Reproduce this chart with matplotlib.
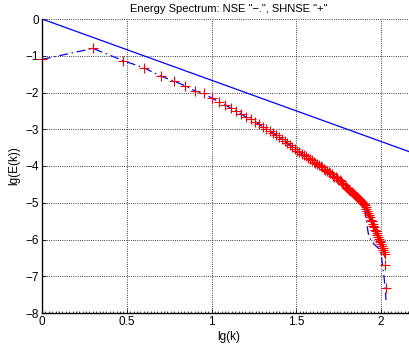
import numpy as np
import matplotlib
matplotlib.use("Agg")
import matplotlib.pyplot as plt
from matplotlib.ticker import MultipleLocator

plt.rcParams['font.family'] = ['Liberation Sans', 'DejaVu Sans']
plt.rcParams['font.size'] = 8

# wavenumbers k = 1..107
k = np.arange(1, 108)

# lg(E(k)) shared by both runs up to k = 80
E_common = [
    -1.10, -0.80, -1.13, -1.33, -1.55, -1.69, -1.82, -1.96, -2.02, -2.15,
    -2.25, -2.33, -2.43, -2.51, -2.59, -2.67, -2.72, -2.79, -2.86, -2.93,
    -2.99, -3.05, -3.10, -3.16, -3.22, -3.27, -3.33, -3.38, -3.43, -3.48,
    -3.53, -3.58, -3.62, -3.66, -3.70, -3.74, -3.77, -3.81, -3.84, -3.88,
    -3.91, -3.94, -3.98, -4.01, -4.04, -4.08, -4.11, -4.14, -4.17, -4.20,
    -4.23, -4.26, -4.29, -4.31, -4.34, -4.37, -4.39, -4.42, -4.46, -4.49,
    -4.52, -4.56, -4.59, -4.62, -4.65, -4.68, -4.71, -4.74, -4.76, -4.79,
    -4.82, -4.85, -4.87, -4.90, -4.93, -4.95, -4.98, -5.00, -5.03, -5.05,
]
# tails k = 81..107
shnse_tail = [
    -5.11, -5.17, -5.23, -5.29, -5.34, -5.40, -5.46, -5.51, -5.57, -5.62,
    -5.67, -5.73, -5.78, -5.83, -5.88, -5.93, -5.98, -6.03, -6.08, -6.13,
    -6.18, -6.23, -6.28, -6.33, -6.40, -6.69, -7.33,
]
nse_tail = [
    -5.35, -5.50, -5.68, -5.83, -5.90, -5.96, -6.01, -6.06, -6.08, -6.10,
    -6.13, -6.15, -6.17, -6.19, -6.21, -6.23, -6.25, -6.27, -6.30, -6.40,
    -6.55, -6.70, -6.85, -7.00, -7.20, -7.40, -7.65,
]
E_nse = E_common + nse_tail
E_shnse = E_common + shnse_tail

# k^(-5/3) reference line
ref_x = [0.0, 2.2]
ref_y = [0.0, -3.667]

fig = plt.figure(figsize=(4.1, 3.5), dpi=100)
ax = fig.add_axes([42 / 410, 37 / 350, 373 / 410, 294 / 350])

ax.plot(ref_x, ref_y, color='#0000ff', lw=0.9)
ax.plot(np.log10(k), E_nse, color='#0000ff', lw=0.9, dashes=(7, 3, 1.2, 3))
ax.plot(np.log10(k), E_shnse, ls='none', marker='+', color='#ff0000',
        ms=6.5, mew=0.8, clip_on=False)

ax.set_xlim(0, 2.2)
ax.set_ylim(-8, 0)
ax.set_xticks([0, 0.5, 1, 1.5, 2])
ax.set_xticklabels(['0', '0.5', '1', '1.5', '2'])
ax.set_yticks(range(-8, 1))
ax.xaxis.set_minor_locator(MultipleLocator(0.02))
ax.tick_params(direction='in', length=3, width=0.6, pad=2, labelsize=8.5)
ax.tick_params(which='minor', direction='in', length=1.5, width=0.5)
ax.grid(True, ls=':', color='black', lw=0.6)

ax.spines['top'].set_visible(False)
ax.spines['right'].set_visible(False)
ax.spines['left'].set_linewidth(1.0)
ax.spines['bottom'].set_linewidth(1.0)

ax.set_title('Energy Spectrum: NSE "\u2212.", SHNSE "+"', fontsize=8, pad=5)
ax.set_xlabel('lg(k)', labelpad=2, fontsize=8.5)
ax.set_ylabel('lg(E(k))', labelpad=4, fontsize=8.5)

fig.savefig('out.png', dpi=100)
